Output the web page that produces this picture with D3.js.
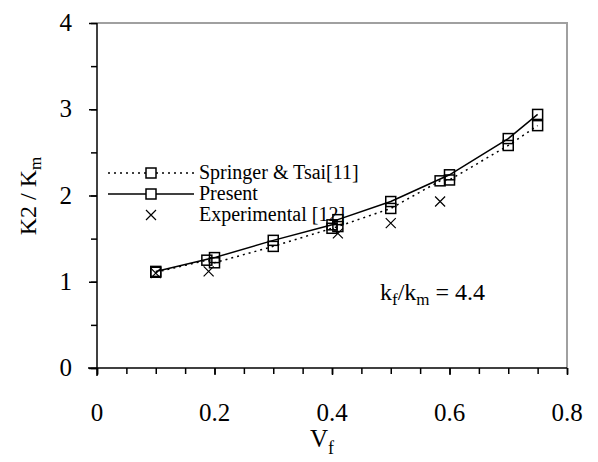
<!DOCTYPE html>
<html>
<head>
<meta charset="utf-8">
<script src="https://cdn.jsdelivr.net/npm/d3@7"></script>
<style>
  body { margin: 0; background: #fff; }
  svg text { font-family: 'Liberation Serif', 'DejaVu Serif', serif; fill: #000; }
</style>
</head>
<body>
<svg id="chart"></svg>
<script>
var width = 598,
  height = 462;

// data
const springerVf = [0.1, 0.187, 0.2, 0.3, 0.4, 0.41, 0.5, 0.584, 0.6, 0.7, 0.75];
const springerK  = [1.11, 1.25, 1.22, 1.41, 1.62, 1.64, 1.85, 2.17, 2.18, 2.58, 2.81];
const presentVf  = [0.1, 0.2, 0.3, 0.4, 0.41, 0.5, 0.6, 0.7, 0.75];
const presentK   = [1.12, 1.28, 1.48, 1.66, 1.72, 1.93, 2.24, 2.66, 2.94];
const expVf      = [0.1, 0.19, 0.41, 0.5, 0.584];
const expK       = [1.10, 1.12, 1.56, 1.68, 1.93];

const xTicks = [0, 0.2, 0.4, 0.6, 0.8];
const xTickLabels = ['0', '0.2', '0.4', '0.6', '0.8'];
const yTicks = [0, 1, 2, 3, 4];

const legendKeys = ['Springer & Tsai[11]', 'Present', 'Experimental [12]'];

// plot area
const plotL = 97, plotR = 567, plotT = 23, plotB = 368;

const x = d3.scaleLinear().domain([0, 0.8]).range([plotL, plotR]);
const y = d3.scaleLinear().domain([0, 4]).range([plotB, plotT]);

const svg = d3.select('#chart')
  .attr('width', width)
  .attr('height', height);

// grey frame on top and right
svg.append('path')
  .attr('d', 'M' + plotL + ',' + plotT + 'H' + plotR + 'V' + plotB)
  .attr('fill', 'none')
  .attr('stroke', '#a0a0a0')
  .attr('stroke-width', 2);

// x axis (minor ticks every 0.05, major every 0.2)
const xAxis = svg.append('g').attr('transform', 'translate(0,' + plotB + ')');
xAxis.append('g')
  .call(d3.axisBottom(x).tickValues(d3.range(0, 0.8001, 0.05)).tickSize(6).tickFormat(''))
  .call(g => g.select('.domain').remove());
xAxis.append('g')
  .call(d3.axisBottom(x).tickValues(xTicks).tickSize(7).tickFormat(''))
  .call(g => g.select('.domain').remove());
xAxis.selectAll('.tick line').attr('stroke-width', 1.5);
xAxis.append('line')
  .attr('x1', plotL - 9).attr('x2', plotR)
  .attr('stroke', '#000').attr('stroke-width', 1.5);
xAxis.selectAll('.lab')
  .data(xTicks)
  .join('text')
  .attr('class', 'lab')
  .attr('x', d => x(d))
  .attr('y', 53)
  .attr('text-anchor', 'middle')
  .style('font-size', '25px')
  .text((d, i) => xTickLabels[i]);

// y axis (minor ticks every 0.5)
const yAxis = svg.append('g').attr('transform', 'translate(' + plotL + ',0)');
yAxis.append('g')
  .call(d3.axisLeft(y).tickValues(d3.range(0, 4.001, 0.5)).tickSize(6).tickFormat(''))
  .call(g => g.select('.domain').remove());
yAxis.append('g')
  .call(d3.axisLeft(y).tickValues(yTicks).tickSize(8).tickFormat(''))
  .call(g => g.select('.domain').remove());
yAxis.selectAll('.tick line').attr('stroke-width', 1.5);
yAxis.append('line')
  .attr('y1', plotT).attr('y2', plotB + 8)
  .attr('stroke', '#000').attr('stroke-width', 1.5);
yAxis.selectAll('.lab')
  .data(yTicks)
  .join('text')
  .attr('class', 'lab')
  .attr('x', -25)
  .attr('y', d => y(d) + 8)
  .attr('text-anchor', 'end')
  .style('font-size', '25px')
  .text(d => d);

// axis titles
const yTitle = svg.append('text')
  .attr('transform', 'translate(36,' + 196 + ') rotate(-90)')
  .attr('text-anchor', 'middle')
  .style('font-size', '24px');
yTitle.append('tspan').text('K2 / K');
yTitle.append('tspan').attr('dy', 5).style('font-size', '17px').text('m');

const xTitle = svg.append('text')
  .attr('x', 310)
  .attr('y', 447)
  .style('font-size', '25px');
xTitle.append('tspan').text('V');
xTitle.append('tspan').attr('dy', 7).style('font-size', '18px').text('f');

// lines
const springer = springerVf.map((v, i) => [v, springerK[i]]);
const present = presentVf.map((v, i) => [v, presentK[i]]);
const experimental = expVf.map((v, i) => [v, expK[i]]);

const line = d3.line().x(d => x(d[0])).y(d => y(d[1]));

svg.append('path')
  .datum(springer)
  .attr('d', line)
  .attr('fill', 'none')
  .attr('stroke', '#000')
  .attr('stroke-width', 1.5)
  .attr('stroke-dasharray', '2,4');

svg.append('path')
  .datum(present)
  .attr('d', line)
  .attr('fill', 'none')
  .attr('stroke', '#000')
  .attr('stroke-width', 1.5);

// square markers
function squares(data) {
  svg.append('g')
    .selectAll('rect')
    .data(data)
    .join('rect')
    .attr('x', d => x(d[0]) - 5)
    .attr('y', d => y(d[1]) - 5)
    .attr('width', 10)
    .attr('height', 10)
    .attr('fill', 'none')
    .attr('stroke', '#000')
    .attr('stroke-width', 1.5);
}
squares(springer);
squares(present);

// cross markers
function cross(g, cx, cy) {
  g.append('path')
    .attr('d', 'M' + (cx - 5) + ',' + (cy - 5) + 'L' + (cx + 5) + ',' + (cy + 5) +
      'M' + (cx + 5) + ',' + (cy - 5) + 'L' + (cx - 5) + ',' + (cy + 5))
    .attr('stroke', '#000')
    .attr('stroke-width', 1.2);
}
const crosses = svg.append('g');
experimental.forEach(d => cross(crosses, x(d[0]), y(d[1])));

// legend
const legend = svg.append('g');
legendKeys.forEach((k, i) => {
  const ly = 173 + i * 21;
  if (i < 2) {
    legend.append('line')
      .attr('x1', 108).attr('x2', 194)
      .attr('y1', ly).attr('y2', ly)
      .attr('stroke', '#000')
      .attr('stroke-width', 1.5)
      .attr('stroke-dasharray', i === 0 ? '2,4' : null);
    legend.append('rect')
      .attr('x', 146).attr('y', ly - 5)
      .attr('width', 10).attr('height', 10)
      .attr('fill', '#fff')
      .attr('stroke', '#000')
      .attr('stroke-width', 1.5);
  } else {
    cross(legend, 151, ly);
  }
  legend.append('text')
    .attr('x', 199)
    .attr('y', ly + 6)
    .style('font-size', '20px')
    .text(k);
});

// annotation
const note = svg.append('text')
  .attr('x', 380)
  .attr('y', 300)
  .style('font-size', '24px');
note.append('tspan').text('k');
note.append('tspan').attr('dy', 5).style('font-size', '17px').text('f');
note.append('tspan').attr('dy', -5).text('/k');
note.append('tspan').attr('dy', 5).style('font-size', '17px').text('m');
note.append('tspan').attr('dy', -5).text(' = 4.4');
</script>
</body>
</html>
